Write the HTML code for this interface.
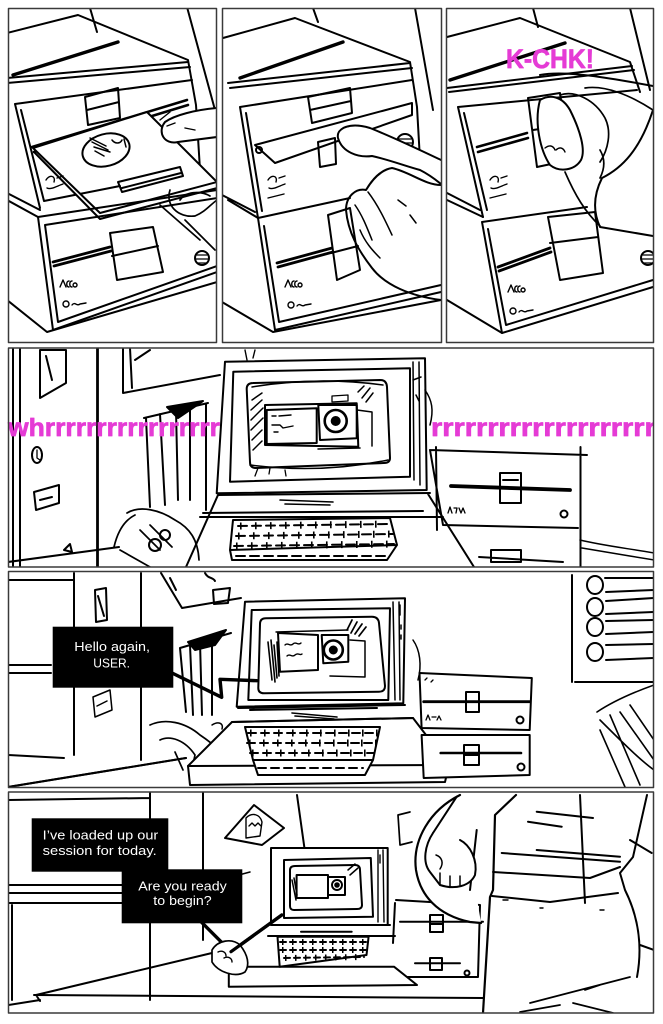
<!DOCTYPE html>
<html><head><meta charset="utf-8"><style>
html,body{margin:0;padding:0;background:#fff;}
svg{display:block;}
</style></head><body>
<svg width="663" height="1024" viewBox="0 0 663 1024" xmlns="http://www.w3.org/2000/svg">
<defs>
<clipPath id="c1"><rect x="8.5" y="8.5" width="208" height="334"/></clipPath>
<clipPath id="c2"><rect x="222.5" y="8.5" width="219" height="334"/></clipPath>
<clipPath id="c3"><rect x="446.5" y="8.5" width="207" height="334"/></clipPath>
<clipPath id="c4"><rect x="8.5" y="348" width="645" height="219"/></clipPath>
<clipPath id="c5"><rect x="8.5" y="571.5" width="645" height="216"/></clipPath>
<clipPath id="c6"><rect x="8.5" y="792" width="645" height="221"/></clipPath>
</defs>
<rect width="663" height="1024" fill="#fff"/>

<g fill="none" stroke="#000" stroke-width="2" stroke-linecap="round" stroke-linejoin="round">

<!-- ============ PANEL 1 ============ -->
<g clip-path="url(#c1)">
<path d="M90 8 L97 32 M187 7 L215 110"/>
<path d="M7 33 L78 15 L188 60 L196 105 L200 170"/>
<path d="M13 75 L118 42" stroke-width="3.4"/>
<path d="M7 78 L188 62 M7 83 L190 67"/>
<path d="M15 104 L192 80 M15 104 L40 208 M21 110 L44 201 L120 186"/>
<path d="M7 193 L40 210 M7 200 L38 217"/>
<path d="M32 147 L187 100 M34 152 L188 105" stroke-width="2.6"/>
<path d="M85 97 L118 88 L120 118 L88 125 Z M87 110 L119 102"/>
<path d="M33 148 L147 112 L217 182 L100 213 Z M35 153 L100 219 L217 188" fill="#fff"/>
<ellipse cx="106" cy="150" rx="24" ry="16" transform="rotate(-15 106 150)"/>
<path d="M92 142 L108 150 M94 147 L110 152 M95 151 L104 156 M90 138 L106 146 M112 140 c3 4 8 4 10 0 M124 139 l2 8" stroke-width="1.5"/>
<path d="M118 182 L180 167 L183 176 L122 192 Z M122 188 L181 173"/>
<path d="M38 217 L217 190 M38 217 L53 330 M53 330 L217 272 M45 225 L217 198 M45 225 L58 322 L217 266"/>
<path d="M7 300 L47 332 L217 282"/>
<path d="M53 262 L110 247 M54 266 L111 251" stroke-width="2.8"/>
<path d="M110 233 L153 227 L163 272 L117 280 Z M112 256 L158 246"/>
<circle cx="202" cy="258" r="7"/>
<path d="M197 255 h10 M196 259 h12 M197 263 h10" stroke-width="1.3"/>
<path d="M60 287 l3 -7 l3 7 m3 -6 c-3 0 -3 6 0 6 m3 -6 c-3 0 -3 6 0 6 m3 -4 a2 2 0 1 0 0.1 0" stroke-width="1.4"/>
<circle cx="66" cy="304" r="3" stroke-width="1.4"/>
<path d="M72 305 c3 -4 5 2 8 -1 l6 -1" stroke-width="1.4"/>
<path d="M46 180 c4 -6 10 -4 8 2 m3 -4 l6 -2 m-16 12 c4 2 10 -2 16 -4" stroke-width="1.4"/>
<path d="M217 108 C195 110 175 115 165 122 C157 132 164 145 178 142 L217 137" fill="#fff"/>
<path d="M160 120 l10 -8 m-3 14 l8 -3 M185 128 l10 2" stroke-width="1.4"/>
<path d="M170 190 C165 205 178 218 195 216 C205 212 210 205 217 200 M160 205 L200 240 M185 220 L215 250 M180 200 C185 192 200 190 210 196" stroke-width="1.7"/>
</g>

<!-- ============ PANEL 2 ============ -->
<g clip-path="url(#c2)">
<path d="M313 8 L318 22 M415 8 L433 110"/>
<path d="M223 38 L295 18 L410 62 L417 107 L420 160"/>
<path d="M240 78 L343 42" stroke-width="3.4"/>
<path d="M228 83 L410 63 M230 88 L412 68"/>
<path d="M240 107 L412 80 M240 107 L258 218 M246 113 L262 211"/>
<path d="M228 200 L258 218 M222 195 L255 212"/>
<path d="M308 97 L350 88 L352 113 L312 123 Z M310 110 L351 101"/>
<path d="M255 145 L412 103 L412 115 L275 163 Z" fill="#fff"/>
<circle cx="259" cy="150" r="3"/>
<path d="M318 142 L335 138 L336 164 L320 167 Z"/>
<circle cx="405" cy="142" r="8"/>
<path d="M399 139 h12 M398 143 h14 M400 147 h10" stroke-width="1.3"/>
<path d="M268 180 c4 -6 10 -4 8 2 m3 -4 l6 -2 m-16 12 c4 2 10 -2 16 -4 M268 198 l16 -4" stroke-width="1.4"/>
<path d="M441 160 C420 150 395 138 370 128 C350 122 336 128 338 138 C342 152 358 158 372 156 C390 160 405 166 420 170 C430 175 436 180 441 184" fill="#fff"/>
<path d="M441 185 C425 185 410 172 392 168 C380 170 372 180 366 190 C356 188 346 196 346 210 C348 232 358 250 372 268 C385 285 410 296 441 300" fill="#fff"/>
<path d="M355 205 C362 215 366 225 372 240 M368 192 C378 205 385 220 392 235 M360 230 C365 242 372 250 380 258 M398 200 l8 6 M410 215 l6 8" stroke-width="1.5"/>
<path d="M258 218 L350 198 M258 218 L275 330 M275 330 L441 292 M264 226 L279 322 L441 285"/>
<path d="M222 302 L273 332 L441 300"/>
<path d="M277 263 L332 248 M278 267 L333 252" stroke-width="2.8"/>
<path d="M328 215 L350 208 L360 270 L337 280 Z M331 253 L358 246"/>
<path d="M285 287 l3 -7 l3 7 m3 -6 c-3 0 -3 6 0 6 m3 -6 c-3 0 -3 6 0 6 m3 -4 a2 2 0 1 0 0.1 0" stroke-width="1.4"/>
<circle cx="291" cy="305" r="3" stroke-width="1.4"/>
<path d="M297 306 c3 -4 5 2 8 -1 l6 -1" stroke-width="1.4"/>
</g>

<!-- ============ PANEL 3 ============ -->
<g clip-path="url(#c3)">
<path d="M533 8 L538 27 M630 8 L650 90"/>
<path d="M447 37 L520 18 L630 62 L640 92"/>
<path d="M450 80 L565 43" stroke-width="3.4"/>
<path d="M447 88 L632 66 M449 92 L634 70"/>
<path d="M458 107 L637 90 M458 107 L483 217 M464 113 L487 210"/>
<path d="M447 200 L483 217 M447 193 L480 210"/>
<path d="M477 147 L527 133 M478 152 L528 138" stroke-width="2.6"/>
<path d="M528 98 L560 93 L570 160 L537 167 Z M533 130 L566 125"/>
<path d="M540 75 C565 70 610 78 653 86"/>
<path d="M653 110 C640 150 622 168 602 178 C592 198 594 214 600 227 L653 236" fill="#fff"/>
<path d="M540 100 C534 122 540 150 550 165 C560 173 575 170 581 160 C586 150 580 130 570 110 C562 96 550 94 540 100" fill="#fff"/>
<path d="M560 95 C575 90 595 100 605 118 C612 132 608 150 600 162 M585 88 C605 85 630 95 653 110 M565 172 C575 195 585 212 600 226 M600 150 C606 160 604 170 600 178" stroke-width="1.7"/>
<path d="M545 148 c4 -3 8 -3 10 2 M556 150 c3 -3 7 -3 9 2" stroke-width="1.4"/>
<path d="M482 222 L587 207 M482 222 L502 333 M502 333 L653 287 M488 229 L506 325 L653 280"/>
<path d="M447 300 L502 333"/>
<path d="M498 267 L550 248 M499 271 L551 252" stroke-width="2.8"/>
<path d="M548 217 L595 212 L603 273 L560 280 Z M550 243 L598 237"/>
<circle cx="648" cy="258" r="7"/>
<path d="M643 255 h10 M642 259 h12 M643 263 h10" stroke-width="1.3"/>
<path d="M490 180 c4 -6 10 -4 8 2 m3 -4 l6 -2 m-16 12 c4 2 10 -2 16 -4 M490 198 l16 -4" stroke-width="1.4"/>
<path d="M508 292 l3 -7 l3 7 m3 -6 c-3 0 -3 6 0 6 m3 -6 c-3 0 -3 6 0 6 m3 -4 a2 2 0 1 0 0.1 0" stroke-width="1.4"/>
<circle cx="513" cy="311" r="3" stroke-width="1.4"/>
<path d="M519 312 c3 -4 5 2 8 -1 l6 -1" stroke-width="1.4"/>
</g>

<!-- ============ ROW 2 ============ -->
<g clip-path="url(#c4)">
<path d="M13 348 L13 567 M20 348 L20 567"/>
<path d="M97.5 348 L97.5 567" stroke-width="2.8"/>
<path d="M40 350 L66 350 L66 383 L40 398 Z M46 356 L52 380"/>
<ellipse cx="37" cy="455" rx="5" ry="8"/>
<path d="M37 450 v8 l3 2" stroke-width="1.3"/>
<path d="M34 492 L59 485 L59 503 L36 510 Z M40 500 l12 -3" />
<path d="M123 348 L123 393 L220 375 M130 348 L132 388 M135 360 L150 350"/>
<path d="M144 418 L208 403 M146 418 L150 507 M160 414 L165 505 M176 410 L178 500 M190 408 L190 500 M206 404 L206 510"/>
<path d="M167 407 L203 401 L178 418 Z" fill="#000"/>
<path d="M245 350 l2 10 M255 350 l-2 8" stroke-width="1.4"/>
<path d="M8 562 L119 547 M64 550 l6 -6 l2 8 Z" fill="none"/>
<path d="M127 513 C140 505 160 510 175 520 C190 528 198 540 199 560 M114 547 C118 530 125 520 135 515 M120 550 L150 567 M140 530 l20 20 M150 525 l22 22" stroke-width="1.7"/>
<circle cx="155" cy="545" r="6"/><circle cx="165" cy="535" r="5"/>
<!-- computer body -->
<path d="M218 495 L430 493 M203 513 L423 511 M200 517 L443 517 M218 495 L186 567 M428 494 L474 567" />
<path d="M280 500 L333 502 M285 504 L330 505" stroke-width="1.6"/>
<path d="M233 520 L390 518 L397 545 L230 550 Z M230 550 L232 560 L387 560 L397 545" fill="#fff"/>
<path d="M238 526 L390 524 M236 536 L393 534 M234 546 L394 544 M236 556 L385 556" stroke-width="2" stroke-dasharray="9 5"/>
<path d="M240 526 L390 524 M238 536 L393 534 M236 546 L394 544" stroke-width="7" stroke-dasharray="1.6 13.4" stroke-linecap="butt"/>
<!-- monitor -->
<path d="M225 361.7 L425 358.3 L426.7 490 L216.7 493.3 Z" fill="#fff"/>
<path d="M233.3 371.7 L410 368.3 L410 476.7 L230 481.7 Z"/>
<path d="M413 362 L414 480 M419 362 L420 485 M413 380 l8 -3 M416 395 l3 6" stroke-width="1.5"/>
<path d="M246.7 389 Q246.7 383 253 383 L380 380 Q386.7 380 387 387 L390 458 Q390 463 384 463 L256 468 Q250 468 250 462 Z"/>
<path d="M252 387 Q317 376 383 385 M250 465 Q320 474 388 460" stroke-width="1.5"/>
<path d="M265 405 L356.7 403.3 L358.3 446.7 L265 445 Z"/>
<path d="M266.7 410 L316.7 408.3 L316.7 443 L266.7 444 Z"/>
<path d="M318.3 405 L356.7 405 L356.7 438.3 L320 440 Z"/>
<path d="M357 410 L372 412 L372 446 M360 448 L318 449" stroke-width="1.5"/>
<circle cx="335.7" cy="421" r="11" stroke-width="2.6"/>
<circle cx="335.7" cy="421" r="4" fill="#000"/>
<path d="M272 416 l4 0 m3 0 l12 -1 M272 425 l8 0 l3 3 l10 -2 M274 432 l4 0" stroke-width="1.4"/>
<path d="M332 396 L348 395 L348 401 L332 402 Z" stroke-width="1.3"/>
<path d="M252 400 L262 393 M251 410 L262 400 M251 420 L263 408 M251 430 L263 418 M252 440 L262 430 M253 450 L262 441" stroke-width="1.5"/>
<path d="M358 392 L364 386 M362 398 L370 388 M366 402 L373 393" stroke-width="1.5"/>
<path d="M258 468 l-3 8 M270 468 l-1 6 M285 470 l1 6" stroke-width="1.3"/>
<!-- right drive -->
<path d="M430 450 L587 455 M580.5 447 L580.5 567 M443 525 L578 528 M430 450 L443 525 M436 447 L437 530"/>
<path d="M451 486 L570 490" stroke-width="3.8"/>
<path d="M500 473 L521 473 L521 503 L500 503 Z M500 488 L521 488 M503 480 h15"/>
<circle cx="564" cy="514" r="3.5"/>
<path d="M448 513 l2 -6 l2 6 m2 -5 l3 0 l-1 5 m3 -5 l2 5 l2 -5 l2 5" stroke-width="1.3"/>
<path d="M479 557 L563 562 M491 550 L521 550 L521 562 L491 562 Z"/>
<path d="M580 540 C600 545 625 548 654 553 M582 548 C605 552 630 556 654 560" stroke-width="1.5"/>
<path d="M425 390 C432 400 434 410 430 425" stroke-width="1.5"/>
</g>
<!-- whrrr text -->
<g font-family="'Liberation Sans Narrow','Liberation Sans',sans-serif" font-weight="bold" fill="#e53bd5" stroke="#e53bd5" stroke-width="0.7" stroke-linejoin="round">
<text x="8" y="436" font-size="25" textLength="212" lengthAdjust="spacingAndGlyphs">whrrrrrrrrrrrrrrrrr</text>
<text x="431" y="436" font-size="25" textLength="236" lengthAdjust="spacingAndGlyphs" clip-path="url(#c4)">rrrrrrrrrrrrrrrrrrrrr</text>
<text x="506" y="68" font-size="27" textLength="88" lengthAdjust="spacingAndGlyphs">K-CHK!</text>
</g>

<!-- ============ ROW 3 ============ -->
<g clip-path="url(#c5)">
<path d="M8.5 580 L74 580 M74 573 L74 755 M141 573 L141 760 M8 665 L51 665 M8 673 L51 673 M8 755 L64 758 M8 787 L186 758"/>
<path d="M95 590 L106 588 L107 620 L96 622 Z M98 596 l6 20"/>
<path d="M93 697 L110 690 L112 710 L95 717 Z M97 706 l10 -5" stroke-width="1.5"/>
<path d="M161 573 L182 608 L241 598 M170 578 L176 590 M205 573 c3 6 8 4 10 8 M213 590 L230 588 L228 603 L214 604 Z"/>
<path d="M180 648 L231 633 M180 648 L186 712 M190 645 L193 715 M200 642 L202 715 M212 640 L212 715" />
<path d="M188 642 L226 630 L215 645 L195 650 Z" fill="#000"/>
<path d="M150 725 C165 718 185 722 200 735 C215 745 225 755 229 765 M160 740 C170 735 185 740 195 755 L190 778 M175 752 l8 18" stroke-width="1.7"/>
<path d="M212 725 c6 -4 12 -2 10 4" stroke-width="1.5"/>
<!-- computer -->
<path d="M232 722 L413 718 L449 765 L445 782 L190 785 L188 766 Z" fill="#fff"/>
<path d="M188 766 L449 765"/>
<path d="M250 710 L377 708 M232 722 L413 718 M238 708 L405 705"/>
<path d="M292 713 L337 717 M295 716 L334 719" stroke-width="1.6"/>
<path d="M245 727 L380 727 L373 760 L253 760 Z M253 760 L258 775 L365 775 L373 760" fill="#fff"/>
<path d="M248 733 L378 733 M247 743 L377 743 M250 753 L374 753 M258 768 L363 768" stroke-width="2" stroke-dasharray="8 5"/>
<path d="M250 733 L378 733 M249 743 L377 743 M252 753 L374 753" stroke-width="7" stroke-dasharray="1.6 12.4" stroke-linecap="butt"/>
<!-- monitor -->
<path d="M245 601.7 L405 598.3 L403.3 703.3 L236.7 706.7 Z" fill="#fff"/>
<path d="M251.7 610 L390 608.3 L388.3 700 L248.3 700 Z"/>
<path d="M393 602 L395 700 M399 602 L400 700 M400 605 v10 M401 625 v4 M401 635 v4" stroke-width="1.5"/>
<path d="M260 624 Q260 618.3 266 618.3 L372 616.7 Q378.3 616.7 379 623 L385 686 Q385 691.7 379 691.7 L264 693.3 Q258.3 693.3 258.3 688 Z"/>
<path d="M278 633 L318 635 L318 670 L280 671.7 Z"/>
<path d="M321.7 635 L348.3 635 L348.3 661.7 L323.3 663.3 Z"/>
<path d="M350 640 L365 641 L365 677 M330 676 L365 677" stroke-width="1.5"/>
<circle cx="333.3" cy="650" r="9.5" stroke-width="2.6"/>
<circle cx="333.3" cy="650" r="3.5" fill="#000"/>
<path d="M285 645 c3 -3 5 2 8 -1 c3 -3 5 2 8 -1 M287 656 c3 -3 5 2 8 -1 c3 -3 5 1 7 -1" stroke-width="1.4"/>
<path d="M268 642 L272 680 M271 640 L275 682 M274 645 L277 678 M277 642 L279 676" stroke-width="1.6"/>
<path d="M347 630 L352 620 M351 633 L357 622 M355 634 L362 624 M359 636 L366 627" stroke-width="1.7"/>
<path d="M276 632 L348 630" stroke-width="1.4"/>
<!-- tail -->
<path d="M170 672 L221.7 697.3 L220 679.3 L256.7 680.7" stroke-width="3.4"/>
<!-- drives -->
<path d="M419.5 673 L531.8 678 L529.7 730 L421.6 728 Z" fill="#fff"/>
<path d="M423.7 701.7 L529.7 701.7" stroke-width="2.8"/>
<path d="M466 692 L479 692 L479 712 L466 712 Z M466 702 h13"/>
<circle cx="520" cy="720" r="3.5"/>
<path d="M426 720 l2 -5 l2 5 m2 -3 l4 0 m1 3 l2 -4 l2 4" stroke-width="1.3"/>
<path d="M421.6 735 L529.7 735 L529.7 775 L423.7 778 Z" fill="#fff"/>
<path d="M440.7 753 L521 753" stroke-width="2.6"/>
<path d="M464 745 L479 745 L479 765 L464 765 Z M464 755 h15"/>
<circle cx="521" cy="767" r="3.5"/>
<path d="M413 640 C420 650 422 665 418 680" stroke-width="1.5"/>
<path d="M425 680 l2 -2 m4 4 l2 -2" stroke-width="1.3"/>
<!-- right poster -->
<path d="M572 575 L572 682 M575 682 L654 682"/>
<ellipse cx="595" cy="585" rx="8" ry="9"/>
<ellipse cx="595" cy="607" rx="8" ry="9"/>
<ellipse cx="595" cy="627" rx="8" ry="9"/>
<ellipse cx="595" cy="652" rx="8" ry="9"/>
<path d="M605 578 L654 578 M606 592 L654 590 M606 601 L654 598 M606 614 L654 612 M606 621 L654 620 M606 634 L654 632 M606 645 L654 644 M606 660 L654 658"/>
<path d="M597 712 C615 700 640 690 654 685 M600 720 C620 740 640 760 654 770 M610 715 L640 785 M620 712 L654 760 M630 705 L654 740 M600 730 L625 787" stroke-width="1.6"/>
<path d="M8 787 L186 758" />
</g>
<!-- hello box -->
<rect x="52.7" y="626.7" width="120.6" height="61" fill="#000" stroke="none"/>

<!-- ============ ROW 4 ============ -->
<g clip-path="url(#c6)">
<path d="M8.5 800 L150 798 M150 792 L150 1000 M8.5 885 L123 885 M8.5 893 L123 893 M8.5 903 L123 903 M12 905 L12 1000 M203 792 L203 940"/>
<path d="M297 795 L305 852 M225 838 L254 805 L284 828 L262 845 Z" />
<path d="M246 818 c6 -6 14 -4 16 4 l-2 14 l-14 2 Z M249 826 l3 -3 l3 3 l3 -3 l3 3" stroke-width="1.4"/>
<path d="M398 815 L410 812 M398 815 L400 845 L412 842" stroke-width="1.7"/>
<path d="M220 880 L250 872 M210 900 L240 898" stroke-width="1.5"/>
<!-- desk -->
<path d="M34 995 L483 998 M36 995 L212 953 M8.5 1005 L40 1000 M36 995 l4 6"/>
<!-- drive behind -->
<path d="M396 900 L480 905 L478 977 L396 977 M395 903 L393 943"/>
<path d="M400 921.7 L483 921.7 M415 963.3 L460 963.3" stroke-width="2"/>
<path d="M430 915 L443 915 L443 932 L430 932 Z M430 924 h13"/>
<path d="M430 958 L442 958 L442 970 L430 970 Z"/>
<circle cx="467" cy="973" r="2.5"/>
<!-- computer -->
<path d="M228.8 966.7 L394 966.7 L417 985 L228.8 986.7 Z" fill="#fff"/>
<path d="M301 931.7 L351.7 931.7 M271 925 L390 925 M268 936 L395 936"/>
<path d="M277.5 936.7 L368.6 936.7 L366.5 955 L279.7 966.7 Z" fill="#fff"/>
<path d="M280 942 L366 942 M280 950 L366 950 M284 958 L364 957" stroke-width="2" stroke-dasharray="6 4"/>
<path d="M282 942 L366 942 M282 950 L366 950 M285 958 L364 957" stroke-width="6" stroke-dasharray="1.5 8.5" stroke-linecap="butt"/>
<path d="M271 848 L387.7 848 L387.7 925 L271 925 Z" fill="#fff"/>
<path d="M284 860 L370.8 858 L373 916.7 L284 918 Z"/>
<path d="M378 850 L378 922 M383 850 L384 922 M380 855 v8" stroke-width="1.4"/>
<path d="M290 870 Q290 866 295 866 L355 865 Q360 865 360 870 L362 905 Q362 909 357 909 L294 910 Q290 910 290 906 Z"/>
<path d="M296.6 875 L328 875 L328 898 L296.6 898 Z"/>
<path d="M328 877 L345 877 L345 895 L328 895 Z"/>
<circle cx="337" cy="885" r="5" stroke-width="1.9"/>
<circle cx="337" cy="885" r="1.8" fill="#000"/>
<path d="M292 880 L296 900 M294 878 L297 895" stroke-width="1.5"/>
<path d="M348 870 L355 864 M350 875 L358 868" stroke-width="1.5"/>
<!-- tail -->
<path d="M201 921.7 L231 951.7 L281.8 915" stroke-width="3.4"/>
<path d="M212 950 C218 940 232 938 240 945 C248 955 250 965 245 972 C235 978 218 972 212 962 Z" fill="#fff" stroke-width="1.7"/>
<path d="M218 952 c4 -2 8 0 8 4 M224 958 c4 -2 8 0 8 4" stroke-width="1.4"/>
<path d="M231 951.7 L281.8 915" stroke-width="3.2"/>
<!-- person -->
<path d="M460 795 C430 810 412 840 416 870 C420 895 437 915 470 922 L481 923" fill="#fff" stroke-width="2.2"/>
<path d="M456.7 796.7 L433 833 M476.7 830 L470 890"/>
<path d="M433 833 C425 845 422 862 430 872 L440 885 C455 890 470 886 475 875 C478 860 470 845 460 840" fill="#fff"/>
<path d="M440 873 v12 M450 876 v11 M460 876 v9 M436 855 c6 2 8 8 4 14" stroke-width="1.5"/>
<path d="M516 795 L495 815 L493 890 L490 897 L483 1013" stroke-width="2.2"/>
<path d="M493 872 L590 878 L620 867 M492 896 L550 902 L618 893"/>
<path d="M536.7 811.7 L593 818 M528 821.7 L561.7 826.7 M501.7 853 L620 861.7 M536.7 850 L620 856.7 M580 795 L585 903"/>
<path d="M647 795 L633 857 L620 873 L625 890 C640 920 642 950 637 977 M630 840 L651.7 853 M640 945 L654 950"/>
<path d="M530 1003 C560 995 600 985 630 977 M573 1003 L613 1013 M585 990 L600 985 M520 1012 L560 1005" stroke-width="1.7"/>
<path d="M503 900 l5 0 M540 908 l3 0 M600 910 l4 0" stroke-width="1.4"/>
</g>
<!-- text boxes row 4 -->
<rect x="31.7" y="818.3" width="136.6" height="53.4" fill="#000" stroke="none"/>
<rect x="121.7" y="869.3" width="120.6" height="54" fill="#000" stroke="none"/>

<!-- panel borders -->
<g stroke="#3a3a3a" stroke-width="1.5">
<rect x="8.5" y="8.5" width="208" height="334"/>
<rect x="222.5" y="8.5" width="219" height="334"/>
<rect x="446.5" y="8.5" width="207" height="334"/>
<rect x="8.5" y="348" width="645" height="219"/>
<rect x="8.5" y="571.5" width="645" height="216"/>
<rect x="8.5" y="792" width="645" height="221"/>
</g>
</g>

<!-- caption text -->
<g font-family="'Liberation Sans',sans-serif" fill="#fff" font-size="12.5">
<text x="74.3" y="651" textLength="75.7" lengthAdjust="spacingAndGlyphs">Hello again,</text>
<text x="93.3" y="667.3" textLength="36.7" lengthAdjust="spacingAndGlyphs">USER.</text>
<text x="42.7" y="839.3" textLength="115.6" lengthAdjust="spacingAndGlyphs">I’ve loaded up our</text>
<text x="42.7" y="855" textLength="114" lengthAdjust="spacingAndGlyphs">session for today.</text>
<text x="138.3" y="890.5" textLength="88.4" lengthAdjust="spacingAndGlyphs">Are you ready</text>
<text x="153.3" y="905" textLength="58.4" lengthAdjust="spacingAndGlyphs">to begin?</text>
</g>
</svg>
</body></html>
